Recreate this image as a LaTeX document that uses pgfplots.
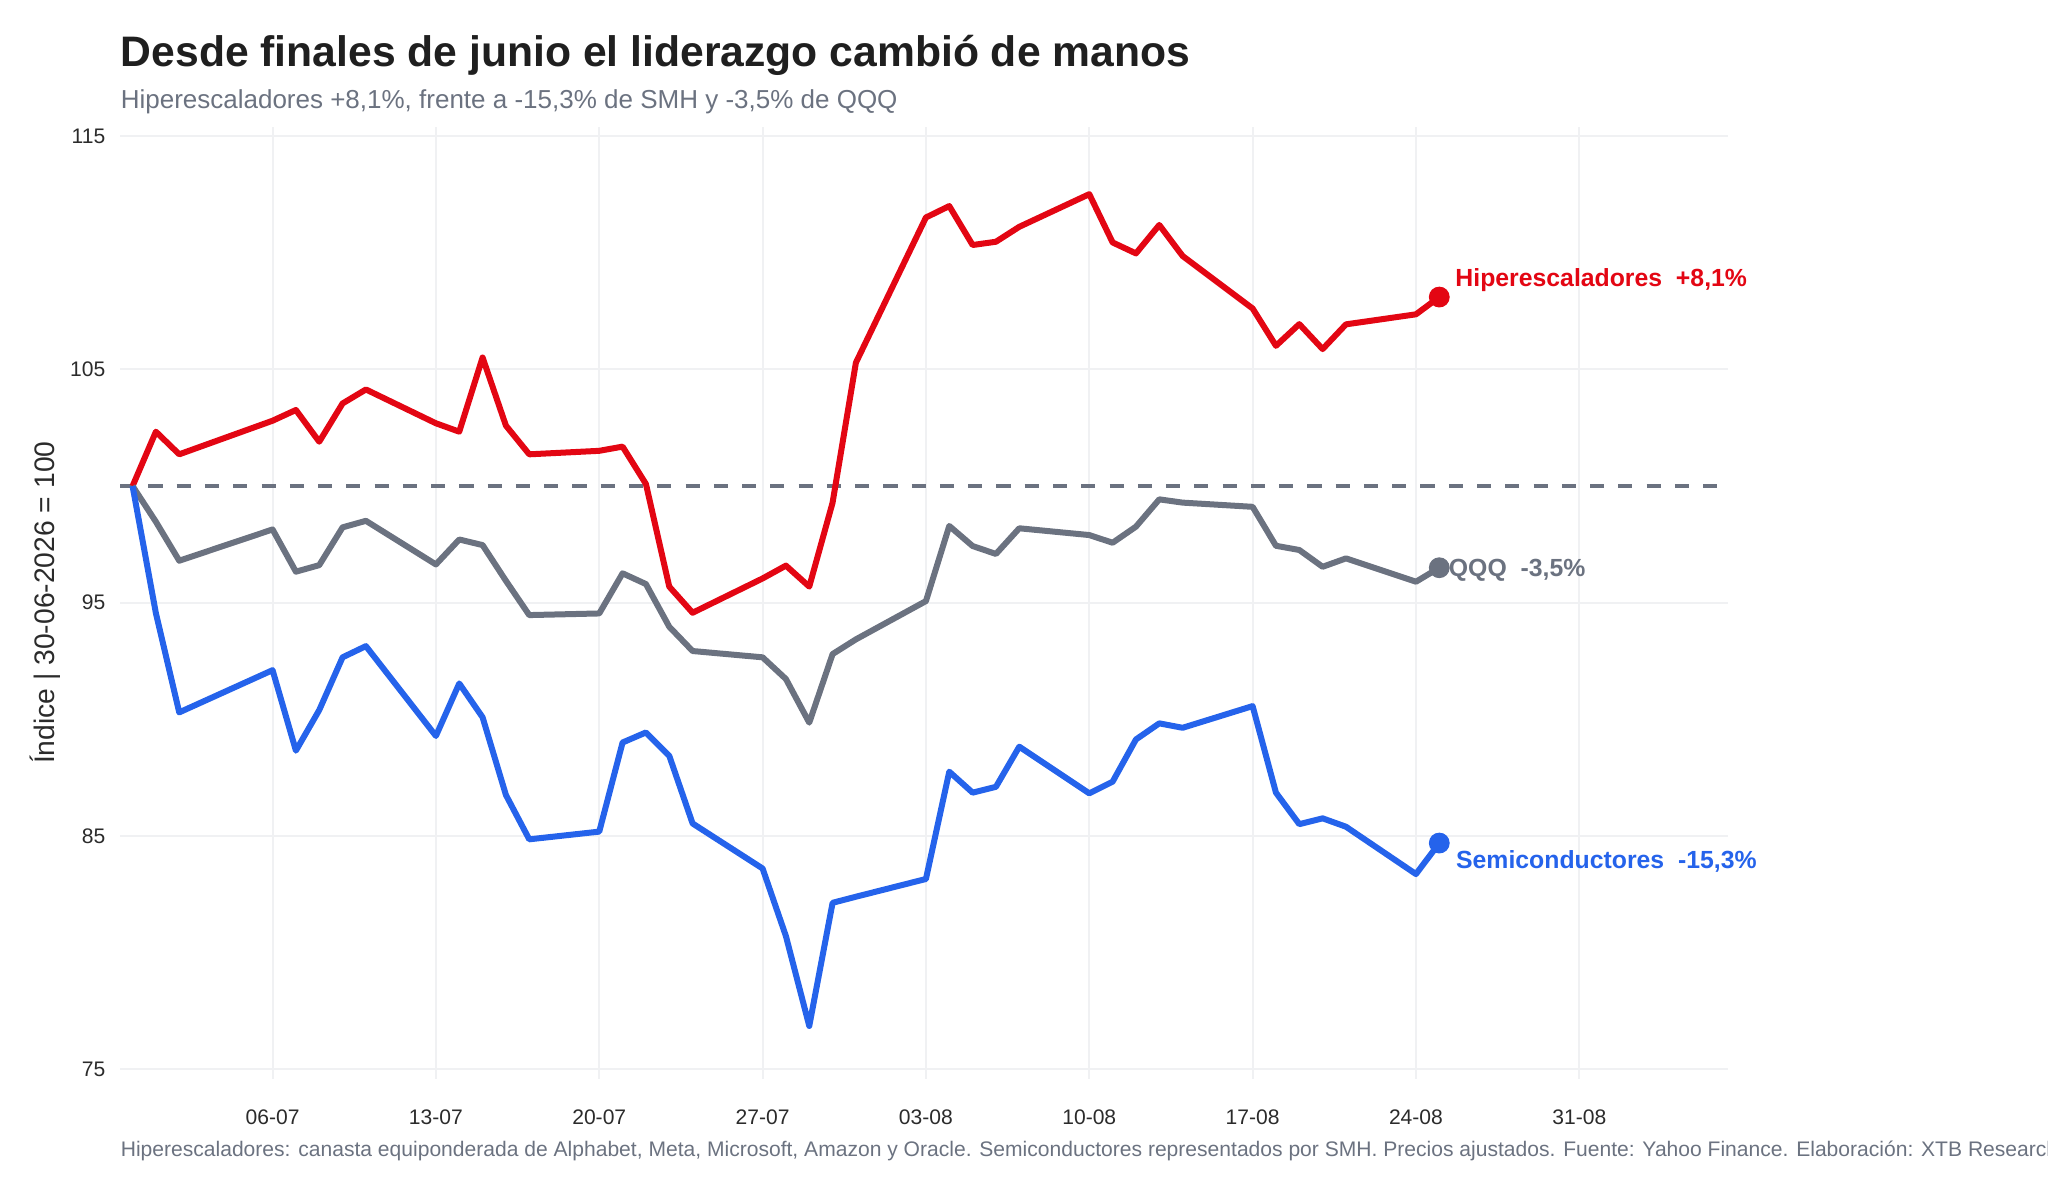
\documentclass[border=0pt]{standalone}
\usepackage{pgfplots}
\usepackage{pgfplotstable}
\pgfplotsset{compat=1.18}
\usepackage{fontspec}
\setmainfont{Liberation Sans}
\definecolor{cred}{HTML}{E30613}
\definecolor{cblue}{HTML}{2563EB}
\definecolor{cgray}{HTML}{6B7280}
\definecolor{cgrid}{HTML}{F0F1F3}
\definecolor{ctitle}{HTML}{1F1F1F}
\definecolor{ctick}{HTML}{2B2B2B}

\pgfplotstableread{
d h q s
0 100 100 100
1 102.33 98.47 94.55
2 101.36 96.80 90.30
6 102.80 98.14 92.11
7 103.26 96.33 88.66
8 101.90 96.61 90.40
9 103.54 98.23 92.66
10 104.14 98.51 93.14
13 102.69 96.64 89.29
14 102.33 97.71 91.54
15 105.51 97.47 90.09
16 102.59 95.94 86.76
17 101.36 94.47 84.86
20 101.51 94.54 85.19
21 101.69 96.26 89.01
22 100.09 95.80 89.44
23 95.69 93.97 88.44
24 94.57 92.93 85.54
27 96.04 92.66 83.61
28 96.59 91.73 80.71
29 95.69 89.86 76.86
30 99.29 92.80 82.14
31 105.29 93.43 82.40
34 111.51 95.07 83.16
35 112.00 98.29 87.76
36 110.33 97.43 86.86
37 110.47 97.09 87.11
38 111.11 98.19 88.83
41 112.51 97.90 86.83
42 110.44 97.57 87.33
43 109.97 98.26 89.14
44 111.19 99.43 89.83
45 109.86 99.29 89.64
48 107.61 99.11 90.57
49 106.01 97.44 86.86
50 106.94 97.26 85.51
51 105.87 96.54 85.76
52 106.93 96.90 85.40
55 107.36 95.90 83.37
56 108.10 96.50 84.70
}\datatab

\begin{document}
\begin{tikzpicture}
\useasboundingbox (0,0) rectangle (768pt,448.125pt);
\node[anchor=base west, inner sep=0pt, font=\fontsize{16}{19}\selectfont\bfseries, text=ctitle] at (45.1pt,423.1pt) {Desde finales de junio el liderazgo cambió de manos};
\node[anchor=base west, inner sep=0pt, font=\fontsize{9.75}{12}\selectfont, text=cgray] at (45.1pt,407.5pt) {Hiperescaladores +8,1\%, frente a -15,3\% de SMH y -3,5\% de QQQ};
\node[anchor=base west, inner sep=0pt, font=\fontsize{7.9}{9.5}\selectfont, text=cgray] at (45.1pt,14.25pt) {Hiperescaladores: canasta equiponderada de Alphabet, Meta, Microsoft, Amazon y Oracle. Semiconductores representados por SMH. Precios ajustados. Fuente: Yahoo Finance. Elaboración: XTB Research.};
\node[rotate=90, inner sep=0pt, font=\fontsize{10.6}{12}\selectfont, text=ctick] at (17.1pt,222.1pt) {Índice | 30-06-2026 = 100};
\begin{axis}[
  at={(45.075pt,43.6pt)}, anchor=south west,
  scale only axis, width=602.9pt, height=357pt,
  xmin=-0.53, xmax=68.37, ymin=74.6, ymax=115.4,
  axis line style={draw=none}, tick style={draw=none},
  xtick={6,13,20,27,34,41,48,55,62},
  xticklabels={06-07,13-07,20-07,27-07,03-08,10-08,17-08,24-08,31-08},
  ytick={75,85,95,105,115},
  yticklabels={75,85,95,105,115},
  grid=major, major grid style={cgrid, line width=0.75pt},
  xticklabel style={font=\fontsize{7.9}{9}\selectfont, text=ctick, inner sep=0pt, anchor=base, yshift=-17.2pt},
  yticklabel style={font=\fontsize{7.9}{9}\selectfont, text=ctick, inner sep=0pt, anchor=east, xshift=-5.4pt},
  clip=false,
  every axis plot/.append style={line join=round},
]
\addplot[cgray, line width=1.25pt, dash pattern=on 5.3pt off 5.3pt] coordinates {(-0.53,100) (68.37,100)};
\addplot[cred, line width=2.25pt] table[x=d, y=h] {\datatab};
\addplot[cgray, line width=2.25pt] table[x=d, y=q] {\datatab};
\addplot[cblue, line width=2.25pt] table[x=d, y=s] {\datatab};
\addplot[only marks, mark=*, mark size=3.7pt, cred] coordinates {(56,108.10)};
\addplot[only marks, mark=*, mark size=3.7pt, cgray] coordinates {(56,96.50)};
\addplot[only marks, mark=*, mark size=3.7pt, cblue] coordinates {(56,84.70)};
\node[anchor=base west, inner sep=0pt, font=\fontsize{9.3}{11}\selectfont\bfseries, text=cred] at (axis cs:56.67,108.57) {Hiperescaladores\ \ +8,1\%};
\node[anchor=base west, inner sep=0pt, font=\fontsize{9.3}{11}\selectfont\bfseries, text=cgray] at (axis cs:56.39,96.14) {QQQ\ \ -3,5\%};
\node[anchor=base west, inner sep=0pt, font=\fontsize{9.3}{11}\selectfont\bfseries, text=cblue] at (axis cs:56.70,83.59) {Semiconductores\ \ -15,3\%};
\end{axis}
\end{tikzpicture}
\end{document}
